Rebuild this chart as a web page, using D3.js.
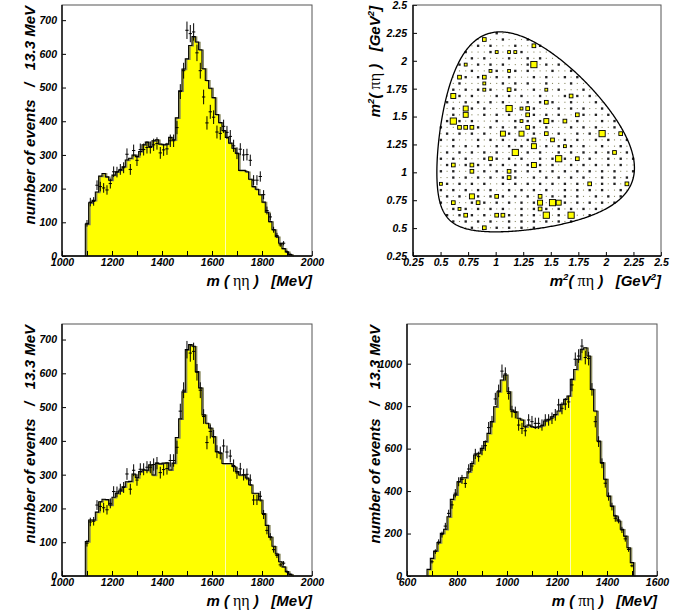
<!DOCTYPE html>
<html>
<head>
<meta charset="utf-8">
<script src="https://cdn.jsdelivr.net/npm/d3@7"></script>
<style>
  html, body { margin: 0; padding: 0; background: #fff; }
  svg { display: block; }
  .lbl { font-family: "Liberation Sans", Arial, Helvetica, sans-serif; font-weight: bold; font-style: italic; fill: #000; }
  .greek { font-family: "Liberation Serif", "DejaVu Serif", serif; font-weight: normal; font-style: normal; }
</style>
</head>
<body>
<div id="chart"></div>
<script>
// histogram binning (MeV)
const binWidth = 13.33;

// m(eta eta): bins start at 1093.3 MeV
const etaEtaLow = 1093.3;
const etaEtaData = [
    97, 160, 162, 210, 206, 202, 196, 215, 250, 249,
    257, 262, 302, 257, 313, 284, 316, 316, 322, 322,
    330, 334, 306, 315, 318, 342, 342, 381, 488, 550,
    670, 660, 665, 603, 550, 472, 395, 428, 412, 368,
    364, 385, 367, 355, 327, 305, 317, 300, 301, 284,
    225, 225, 236, 182, 135, 116, 78, 61, 33, 38, 13, 5
];
const etaEtaFitTop = [
    95, 158, 165, 190, 237, 245, 235, 225, 240, 250,
    255, 265, 285, 290, 300, 295, 310, 330, 338, 325,
    342, 345, 332, 330, 332, 352, 345, 410, 490, 555,
    585, 625, 651, 635, 612, 556, 521, 498, 470, 420,
    396, 372, 352, 335, 320, 305, 254, 254, 250, 228,
    206, 198, 182, 160, 130, 102, 78, 57, 38, 22, 12, 4
];
const etaEtaFitBottom = [
    102, 166, 166, 189, 220, 227, 226, 210, 233, 245,
    252, 264, 279, 280, 302, 291, 309, 314, 313, 329,
    299, 334, 332, 334, 335, 314, 334, 410, 465, 545,
    670, 685, 680, 605, 557, 477, 452, 438, 413, 368,
    364, 333, 333, 333, 324, 309, 299, 299, 290, 270,
    245, 245, 225, 185, 150, 115, 88, 65, 42, 27, 13, 5
];

// m(pi eta): bins start at 680 MeV
const piEtaLow = 680;
const piEtaData = [
    null, 67, 115, 160, 195, 235, 295, 335, 390, 444,
    455, 436, 504, 518, 575, 562, 593, 614, 699, 727,
    834, 872, 965, 952, 860, 774, 770, 711, 695, 684,
    735, 727, 719, 719, 711, 735, 735, 743, 759, 806,
    790, 810, 820, 900, 1021, 1036, 1083, 1029, 1024, 879,
    727, 633, 531, 437, 374, 327, 272, 264, 217, 175, 125, 48
];
const piEtaFit = [
    31, 83, 118, 157, 201, 220, 279, 361, 382, 444,
    463, 463, 491, 530, 570, 578, 601, 633, 672, 727,
    797, 868, 923, 947, 868, 782, 774, 743, 735, 703,
    711, 703, 700, 703, 708, 730, 738, 750, 761, 777,
    809, 832, 848, 926, 973, 1021, 1068, 1075, 1036, 879,
    777, 636, 534, 456, 377, 330, 283, 259, 220, 188, 133, 63
];

// Dalitz plot, 40 x 40 cells over 0.25..2.5 GeV^2
// background cells (1 = one event, 2 = two events), rows top (j=35) to bottom (j=4), columns i=4..35
const dalitzRows = [
    "12111211121112111211121112111211",
    "21121112112111211121121112112111",
    "11211121211121112211121121112121",
    "12112111211212111121211121112112",
    "21211212111211212111211212111211",
    "11121121212111211212111211211212",
    "12211211121121211121121211121121",
    "21112121121211121211212111211211",
    "12121112112121211211121121212111",
    "11212121211121121212111212111212",
    "21121211121212112111212121121121",
    "12112121212111212121121112121211",
    "21211212111212121112121211211212",
    "11212112121211121212111212121121",
    "12121211121121212121212111212112",
    "21112121212121121211121212112121",
    "12121212111212121212112121211212",
    "21211121212121211121212112121121",
    "11212121121212121212121211211212",
    "12121212121121212112121212121121",
    "21212112121212112121212121121212",
    "12112121212121212121121212121211",
    "21211212121121212121212121212112",
    "11212121212121121212121211212121",
    "12121212112121212121212121212112",
    "21212121211212121211212121211211",
    "12121121212121212121212112121212",
    "21211212121212121121212121212121",
    "11212121212112121212121212121211",
    "12121212121212121212121121212112",
    "21212121211212121212121212112121",
    "12121212121212121212121212121212"
];
// larger cells: [column i, row j, events]
const dalitzBoxes = [
    [6, 25, 9], [6, 21, 14], [8, 23, 9], [8, 22, 9], [7, 20, 5], [8, 20, 5], [9, 20, 5],
    [7, 28, 5], [11, 28, 5], [8, 30, 3], [11, 34, 5], [19, 33, 5], [19, 30, 14], [15, 26, 5],
    [15, 23, 14], [18, 22, 5], [18, 20, 5], [17, 19, 9], [14, 19, 9], [21, 21, 9], [19, 17, 9],
    [23, 15, 14], [30, 19, 14], [33, 19, 5], [26, 15, 5], [16, 16, 14], [12, 15, 5], [19, 14, 9],
    [6, 14, 5], [9, 14, 5], [9, 13, 5], [15, 13, 5], [15, 12, 5], [4, 11, 3], [9, 9, 9],
    [10, 8, 5], [13, 9, 5], [20, 9, 5], [20, 8, 9], [22, 8, 14], [23, 8, 9], [21, 6, 14],
    [25, 6, 14], [20, 7, 5], [8, 6, 5], [13, 6, 5], [14, 6, 5], [6, 8, 5], [7, 7, 3],
    [11, 4, 5], [28, 11, 5], [34, 11, 5], [32, 16, 5], [22, 18, 5], [24, 17, 3], [21, 19, 5],
    [19, 18, 5], [25, 25, 5], [26, 22, 5], [24, 21, 5], [21, 24, 5], [21, 26, 3], [17, 23, 3],
    [18, 23, 5], [17, 21, 3], [12, 29, 3], [15, 29, 3], [15, 32, 3], [16, 32, 3], [13, 32, 3],
    [11, 27, 3], [11, 26, 3]
];

// kinematics for the Dalitz boundary (GeV)
const massTotal = 2.051;
const massPi = 0.135;
const massEta = 0.548;

const W = 691, H = 614;
const svg = d3.select('#chart').append('svg')
    .attr('width', W)
    .attr('height', H);

const panels = {
    tl: { left: 62, top: 5, width: 250, height: 251 },
    tr: { left: 413, top: 5, width: 248, height: 251 },
    bl: { left: 62, top: 324, width: 250, height: 252 },
    br: { left: 407, top: 324, width: 250, height: 252 }
};

// write a title from styled pieces
function addText(sel, parts) {
    parts.forEach(p => {
        const t = sel.append('tspan').text(p.t);
        if (p.greek) t.attr('class', 'greek').style('font-size', '16px');
        if (p.sup) t.style('font-size', '9.5px').attr('dy', -6);
        if (p.down) t.attr('dy', 6);
    });
}

function xTitle(g, p, parts) {
    const t = g.append('text')
        .attr('class', 'lbl')
        .attr('x', p.width)
        .attr('y', p.height + 29.5)
        .attr('text-anchor', 'end')
        .style('font-size', '15px')
        .style('white-space', 'pre');
    addText(t, parts);
}

function yTitle(g, p, offset, parts) {
    const t = g.append('text')
        .attr('class', 'lbl')
        .attr('transform', `translate(${-offset}, 1) rotate(-90)`)
        .attr('text-anchor', 'end')
        .style('font-size', '15px')
        .style('white-space', 'pre');
    addText(t, parts);
}

function styleAxis(a) {
    a.select('.domain').remove();
    a.selectAll('.tick line').attr('stroke', '#000').attr('stroke-width', 1);
    a.selectAll('.tick text')
        .attr('class', 'lbl')
        .attr('fill', '#000')
        .style('font-size', '10.5px');
}

function drawFrame(g, p) {
    g.append('rect')
        .attr('width', p.width)
        .attr('height', p.height)
        .attr('fill', 'none')
        .attr('stroke', '#555')
        .attr('stroke-width', 1);
    g.append('line')
        .attr('x1', 0).attr('x2', 0).attr('y1', 0).attr('y2', p.height)
        .attr('stroke', '#000').attr('stroke-width', 1.3);
    g.append('line')
        .attr('x1', 0).attr('x2', p.width).attr('y1', p.height).attr('y2', p.height)
        .attr('stroke', '#000').attr('stroke-width', 1.6);
}

function drawHistogram(p, opts) {
    const g = svg.append('g').attr('transform', `translate(${p.left},${p.top})`);
    const x = d3.scaleLinear().domain(opts.xDomain).range([0, p.width]);
    const y = d3.scaleLinear().domain(opts.yDomain).range([p.height, 0]);

    const n = opts.fit.length;
    const edges = d3.range(n + 1).map(i => opts.low + i * binWidth);
    const pts = [[edges[0], 0]]
        .concat(opts.fit.map((v, i) => [edges[i], v]))
        .concat([[edges[n], 0]]);

    const area = d3.area()
        .curve(d3.curveStepAfter)
        .x(d => x(d[0]))
        .y0(y(0))
        .y1(d => y(d[1]));
    const line = d3.line()
        .curve(d3.curveStepAfter)
        .x(d => x(d[0]))
        .y(d => y(d[1]));

    g.append('path').datum(pts).attr('d', area).attr('fill', '#ffff00');

    // thin light seam through the fill
    const seamBin = Math.floor((opts.seam - opts.low) / binWidth);
    g.append('line')
        .attr('x1', x(opts.seam)).attr('x2', x(opts.seam))
        .attr('y1', y(0)).attr('y2', y(opts.fit[seamBin]))
        .attr('stroke', '#fffde0').attr('stroke-width', 0.8);

    // grey shadow of the outline, then the outline
    g.append('path').datum(pts).attr('d', line)
        .attr('transform', 'translate(1.3,0.4)')
        .attr('fill', 'none').attr('stroke', '#8a8a60').attr('stroke-width', 1.5);
    g.append('path').datum(pts).attr('d', line)
        .attr('fill', 'none').attr('stroke', '#000').attr('stroke-width', 1.1);

    // data points with statistical errors
    const pointsData = opts.data
        .map((v, i) => ({ v, lo: edges[i], hi: edges[i + 1] }))
        .filter(d => d.v != null);
    const pg = g.append('g').attr('stroke', '#000').attr('stroke-width', 1);
    pg.selectAll('.ev').data(pointsData).enter().append('line')
        .attr('x1', d => x((d.lo + d.hi) / 2)).attr('x2', d => x((d.lo + d.hi) / 2))
        .attr('y1', d => y(d.v - Math.sqrt(d.v))).attr('y2', d => y(d.v + Math.sqrt(d.v)));
    pg.selectAll('.eh').data(pointsData).enter().append('line')
        .attr('x1', d => x(d.lo)).attr('x2', d => x(d.hi))
        .attr('y1', d => y(d.v)).attr('y2', d => y(d.v));

    // axes with inward ticks
    const xTicks = d3.range(opts.xDomain[0], opts.xDomain[1] + 1, 100);
    const ax = g.append('g').attr('transform', `translate(0,${p.height})`)
        .call(d3.axisBottom(x).tickValues(xTicks).tickSize(-5).tickPadding(3)
            .tickFormat(d => (d - opts.xDomain[0]) % 200 === 0 ? d : ''));
    styleAxis(ax);
    const ay = g.append('g')
        .call(d3.axisLeft(y).tickValues(opts.yTicks).tickSize(-4).tickPadding(5)
            .tickFormat(d => d));
    styleAxis(ay);

    drawFrame(g, p);

    xTitle(g, p, [
        { t: 'm (' }, { t: ' ' + opts.pair + ' ', greek: true }, { t: ')   [MeV]' }
    ]);
    yTitle(g, p, 27, [{ t: 'number of events   /   13.3 MeV' }]);
}

function dalitzLimits(s) {
    const rs = Math.sqrt(s);
    const e2 = (s - massEta * massEta + massPi * massPi) / (2 * rs);
    const e3 = (massTotal * massTotal - s - massEta * massEta) / (2 * rs);
    const p2 = Math.sqrt(Math.max(e2 * e2 - massPi * massPi, 0));
    const p3 = Math.sqrt(Math.max(e3 * e3 - massEta * massEta, 0));
    const sum = (e2 + e3) * (e2 + e3);
    return [sum - (p2 + p3) * (p2 + p3), sum - (p2 - p3) * (p2 - p3)];
}

function drawDalitz(p) {
    const g = svg.append('g').attr('transform', `translate(${p.left},${p.top})`);
    const x = d3.scaleLinear().domain([0.25, 2.5]).range([0, p.width]);
    const y = d3.scaleLinear().domain([0.25, 2.5]).range([p.height, 0]);
    const cell = 2.25 / 40;
    const cellPx = x(0.25 + cell) - x(0.25);
    const size = d3.scaleSqrt().domain([0, 14]).range([0, cellPx]);

    const sMin = (massPi + massEta) ** 2;
    const sMax = (massTotal - massEta) ** 2;
    const inside = (sx, sy) => {
        if (sx <= sMin || sx >= sMax) return false;
        const [lo, hi] = dalitzLimits(sx);
        return sy > lo && sy < hi;
    };

    const big = new Map(dalitzBoxes.map(b => [b[0] + ',' + b[1], b[2]]));
    const cells = [];
    dalitzRows.forEach((row, k) => {
        const j = 35 - k;
        row.split('').forEach((ch, c) => {
            const i = 4 + c;
            const n = big.get(i + ',' + j) || +ch;
            const cx = 0.25 + cell * (i + 0.5);
            const cy = 0.25 + cell * (j + 0.5);
            if (n > 0 && inside(cx, cy)) cells.push({ cx, cy, n });
        });
    });

    // one-event cells are tiny grey dots, two-event cells small dark squares
    const side = d => d.n === 1 ? 1.1 : size(d.n);
    g.selectAll('.cell').data(cells).enter().append('rect')
        .attr('x', d => x(d.cx) - side(d) / 2)
        .attr('y', d => y(d.cy) - side(d) / 2)
        .attr('width', side)
        .attr('height', side)
        .attr('fill', d => d.n === 1 ? '#8c8c66' : d.n === 2 ? '#222' : '#ffff00')
        .attr('stroke', d => d.n <= 2 ? 'none' : '#000')
        .attr('stroke-width', 0.9);

    // kinematic boundary
    const ts = d3.range(0, 1.0001, 0.004);
    const ss = ts.map(t => sMin + (sMax - sMin) * (1 - Math.cos(Math.PI * t)) / 2);
    const lower = ss.map(s => [s, dalitzLimits(s)[0]]);
    const upper = ss.slice().reverse().map(s => [s, dalitzLimits(s)[1]]);
    g.append('path')
        .datum(lower.concat(upper))
        .attr('d', d3.line().x(d => x(d[0])).y(d => y(d[1])).curve(d3.curveLinearClosed))
        .attr('fill', 'none')
        .attr('stroke', '#000')
        .attr('stroke-width', 1.3);

    const ticks = d3.range(0.25, 2.51, 0.25);
    const fmt = d3.format('~g');
    const ax = g.append('g').attr('transform', `translate(0,${p.height})`)
        .call(d3.axisBottom(x).tickValues(ticks).tickSize(-4).tickPadding(3).tickFormat(fmt));
    styleAxis(ax);
    const ay = g.append('g')
        .call(d3.axisLeft(y).tickValues(ticks).tickSize(-4).tickPadding(6).tickFormat(fmt));
    styleAxis(ay);

    drawFrame(g, p);

    const title = [
        { t: 'm' }, { t: '2', sup: true }, { t: '( ', down: true }, { t: 'πη', greek: true },
        { t: ' )   [GeV' }, { t: '2', sup: true }, { t: ']', down: true }
    ];
    xTitle(g, p, title);
    yTitle(g, p, 33, title);
}

drawHistogram(panels.tl, {
    xDomain: [1000, 2000], yDomain: [0, 745], yTicks: d3.range(0, 701, 100),
    low: etaEtaLow, fit: etaEtaFitTop, data: etaEtaData, pair: 'ηη', seam: 1654
});
drawDalitz(panels.tr);
drawHistogram(panels.bl, {
    xDomain: [1000, 2000], yDomain: [0, 746], yTicks: d3.range(0, 701, 100),
    low: etaEtaLow, fit: etaEtaFitBottom, data: etaEtaData, pair: 'ηη', seam: 1654
});
drawHistogram(panels.br, {
    xDomain: [600, 1600], yDomain: [0, 1187], yTicks: d3.range(0, 1001, 200),
    low: piEtaLow, fit: piEtaFit, data: piEtaData, pair: 'πη', seam: 1254
});
</script>
</body>
</html>
